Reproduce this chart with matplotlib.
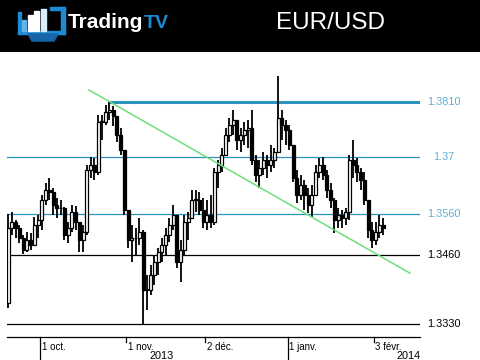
import numpy as np
import pandas as pd
import matplotlib
matplotlib.use("Agg")
import matplotlib.pyplot as plt
from matplotlib.patches import Rectangle, Polygon

plt.rcParams["font.family"] = ["Liberation Sans", "DejaVu Sans"]

# daily EUR/USD candles, 18 Sep 2013 -> 5 Feb 2014 (business days)
dates = pd.bdate_range("2013-09-18", "2014-02-05")
first_open = 1.3367
highs = [
    1.3563, 1.3568, 1.3550, 1.3539, 1.3517, 1.3524, 1.3521, 1.3557, 1.3561, 1.3605,
    1.3631, 1.3642, 1.3620, 1.3598, 1.3594, 1.3579, 1.3546, 1.3583, 1.3581, 1.3546,
    1.3539, 1.3671, 1.3689, 1.3686, 1.3781, 1.3781, 1.3803, 1.3812, 1.3801, 1.3774,
    1.3752, 1.3704, 1.3572, 1.3539, 1.3532, 1.3554, 1.3528, 1.3429, 1.3451, 1.3473,
    1.3488, 1.3510, 1.3532, 1.3554, 1.3583, 1.3561, 1.3506, 1.3561, 1.3568, 1.3616,
    1.3616, 1.3612, 1.3598, 1.3594, 1.3605, 1.3664, 1.3682, 1.3708, 1.3752, 1.3774,
    1.3792, 1.3770, 1.3752, 1.3766, 1.3770, 1.3792, 1.3693, 1.3682, 1.3700, 1.3693,
    1.3715, 1.3708, 1.3867, 1.3792, 1.3770, 1.3759, 1.3715, 1.3660, 1.3649, 1.3638,
    1.3620, 1.3627, 1.3671, 1.3686, 1.3689, 1.3660, 1.3631, 1.3598, 1.3576, 1.3572,
    1.3576, 1.3693, 1.3726, 1.3686, 1.3664, 1.3656, 1.3594, 1.3546, 1.3546, 1.3561,
    1.3554,
]
lows = [
    1.3356, 1.3517, 1.3510, 1.3499, 1.3475, 1.3480, 1.3484, 1.3495, 1.3510, 1.3528,
    1.3583, 1.3594, 1.3561, 1.3554, 1.3561, 1.3506, 1.3499, 1.3524, 1.3528, 1.3480,
    1.3480, 1.3517, 1.3642, 1.3638, 1.3649, 1.3726, 1.3759, 1.3770, 1.3757, 1.3722,
    1.3693, 1.3561, 1.3488, 1.3458, 1.3473, 1.3495, 1.3321, 1.3352, 1.3385, 1.3407,
    1.3429, 1.3458, 1.3473, 1.3502, 1.3528, 1.3444, 1.3414, 1.3473, 1.3506, 1.3554,
    1.3568, 1.3561, 1.3532, 1.3528, 1.3532, 1.3539, 1.3620, 1.3656, 1.3700, 1.3722,
    1.3737, 1.3704, 1.3700, 1.3715, 1.3708, 1.3671, 1.3634, 1.3620, 1.3649, 1.3642,
    1.3656, 1.3664, 1.3700, 1.3726, 1.3715, 1.3704, 1.3634, 1.3587, 1.3594, 1.3572,
    1.3565, 1.3557, 1.3605, 1.3642, 1.3638, 1.3598, 1.3576, 1.3521, 1.3532, 1.3532,
    1.3539, 1.3550, 1.3642, 1.3634, 1.3616, 1.3583, 1.3510, 1.3488, 1.3495, 1.3510,
    1.3517,
]
closes = [
    1.3532, 1.3546, 1.3532, 1.3510, 1.3484, 1.3506, 1.3495, 1.3539, 1.3550, 1.3594,
    1.3616, 1.3612, 1.3583, 1.3576, 1.3576, 1.3517, 1.3532, 1.3568, 1.3546, 1.3506,
    1.3524, 1.3660, 1.3671, 1.3656, 1.3766, 1.3766, 1.3788, 1.3792, 1.3779, 1.3737,
    1.3704, 1.3572, 1.3506, 1.3510, 1.3510, 1.3524, 1.3396, 1.3396, 1.3429, 1.3458,
    1.3480, 1.3495, 1.3517, 1.3539, 1.3561, 1.3458, 1.3484, 1.3546, 1.3554, 1.3594,
    1.3594, 1.3572, 1.3546, 1.3561, 1.3546, 1.3656, 1.3671, 1.3693, 1.3737, 1.3759,
    1.3770, 1.3726, 1.3737, 1.3748, 1.3752, 1.3682, 1.3649, 1.3664, 1.3682, 1.3671,
    1.3682, 1.3700, 1.3774, 1.3759, 1.3748, 1.3715, 1.3642, 1.3605, 1.3627, 1.3605,
    1.3583, 1.3605, 1.3656, 1.3671, 1.3649, 1.3616, 1.3594, 1.3550, 1.3561, 1.3554,
    1.3568, 1.3682, 1.3671, 1.3656, 1.3638, 1.3594, 1.3528, 1.3506, 1.3524, 1.3539,
    1.3532,
]

level_values = [1.3810, 1.3689, 1.3563, 1.3473, 1.3321]
level_labels = ["1.3810", "1.37", "1.3560", "1.3460", "1.3330"]
level_colors = ["#2b93c0", "#2b93c0", "#2b93c0", "black", "black"]
label_colors = ["#5ab0d4", "#5ab0d4", "#5ab0d4", "black", "black"]

trend_x = [22.07, 107.67]
trend_y = [1.3836, 1.3433]

tick_dates = ["2013-10-01", "2013-11-01", "2013-12-02", "2014-01-01", "2014-02-03"]
tick_labels = ["1 oct.", "1 nov.", "2 déc.", "1 janv.", "3 févr."]
long_ticks = ["2013-10-01", "2014-01-01"]
years = ["2013", "2014"]
year_pos = [41.5, 107.4]

fig = plt.figure(figsize=(4.8, 3.6), dpi=100)
fig.patch.set_facecolor("white")

# header band with logo and title
hdr = fig.add_axes([0, 1 - 52 / 360, 1, 52 / 360])
hdr.set_xlim(0, 480)
hdr.set_ylim(52, 0)
hdr.axis("off")
hdr.add_patch(Rectangle((0, 0), 480, 52, color="black"))
blue = "#1d8ad6"
hdr.add_patch(Rectangle((18, 12), 2.5, 22, color=blue))
hdr.add_patch(Rectangle((18, 31), 47, 3, color=blue))
hdr.add_patch(Rectangle((50, 7), 15, 3, color=blue))
hdr.add_patch(Rectangle((61, 7), 4, 27, color=blue))
hdr.add_patch(Polygon([(28, 34), (58, 34), (54, 41), (32, 41)], color="#1565a8"))
hdr.add_patch(Rectangle((21.5, 20), 4.5, 11, color="#5fb4ea"))
hdr.add_patch(Rectangle((27.5, 15), 5, 16, color="white"))
hdr.add_patch(Rectangle((34, 11), 5, 20, color="white"))
hdr.add_patch(Rectangle((40.5, 9), 5.5, 22, color="#d6ecfa"))
t_trading = hdr.text(68, 23, "Trading", color="white", fontsize=15, fontweight="bold",
                     ha="left", va="center")
hdr.annotate("TV", xy=(1, 0.5), xycoords=t_trading, xytext=(0.5, 0),
             textcoords="offset points", color=blue, fontsize=14, fontweight="bold",
             ha="left", va="center")
hdr.text(331, 23, "EUR/USD", color="white", fontsize=17.5, ha="center", va="center")

# price chart
ax = fig.add_axes([7 / 480, 23 / 360, 413 / 480, 285 / 360])
n = len(closes)
x = np.arange(n) + 0.5
c = np.array(closes)
o = np.concatenate([[first_open], c[:-1]])
h = np.array(highs)
l = np.array(lows)
up = c >= o

ax.vlines(x, l, h, color="black", lw=1.3, zorder=3)
body_lo = np.minimum(o, c)
body_h = np.maximum(np.abs(c - o), 0.00015)
ax.bar(x, body_h, bottom=body_lo, width=0.8,
       color=np.where(up, "white", "black"), edgecolor="black", lw=0.9, zorder=4)

for v, col in zip(level_values, level_colors):
    if v == level_values[0]:
        ax.plot([27.2, 110.4], [v, v], color=col, lw=2.2, zorder=2, solid_capstyle="butt")
    else:
        ax.axhline(v, color=col, lw=0.9, zorder=2)

ax.plot(trend_x, trend_y, color="#6ee07a", lw=1.1, zorder=5, clip_on=False)

for v, lab, col in zip(level_values, level_labels, label_colors):
    ax.text(1.058, v, lab, transform=ax.get_yaxis_transform(), color=col,
            fontsize=7.8, ha="center", va="center", clip_on=False)

# date axis
xt = ax.get_xaxis_transform()
for d, lab in zip(tick_dates, tick_labels):
    pos = dates.get_loc(pd.Timestamp(d))
    depth = -23 / 285 if d in long_ticks else -5 / 285
    ax.plot([pos, pos], [0, depth], color="black", lw=0.9, transform=xt, clip_on=False)
    ax.text(pos + 0.4, -0.036, lab, transform=xt, fontsize=7, ha="left", va="center")
for yr, p in zip(years, year_pos):
    ax.text(p, -0.066, yr, transform=xt, fontsize=7.8, ha="center", va="center")

ax.set_xlim(0.2, 110.33)
ax.set_ylim(1.32926, 1.39196)
ax.set_xticks([])
ax.set_yticks([])
for s in ["top", "left", "right"]:
    ax.spines[s].set_visible(False)
ax.spines["bottom"].set_linewidth(0.9)
ax.set_facecolor("none")

fig.savefig("out.png", dpi=100)
